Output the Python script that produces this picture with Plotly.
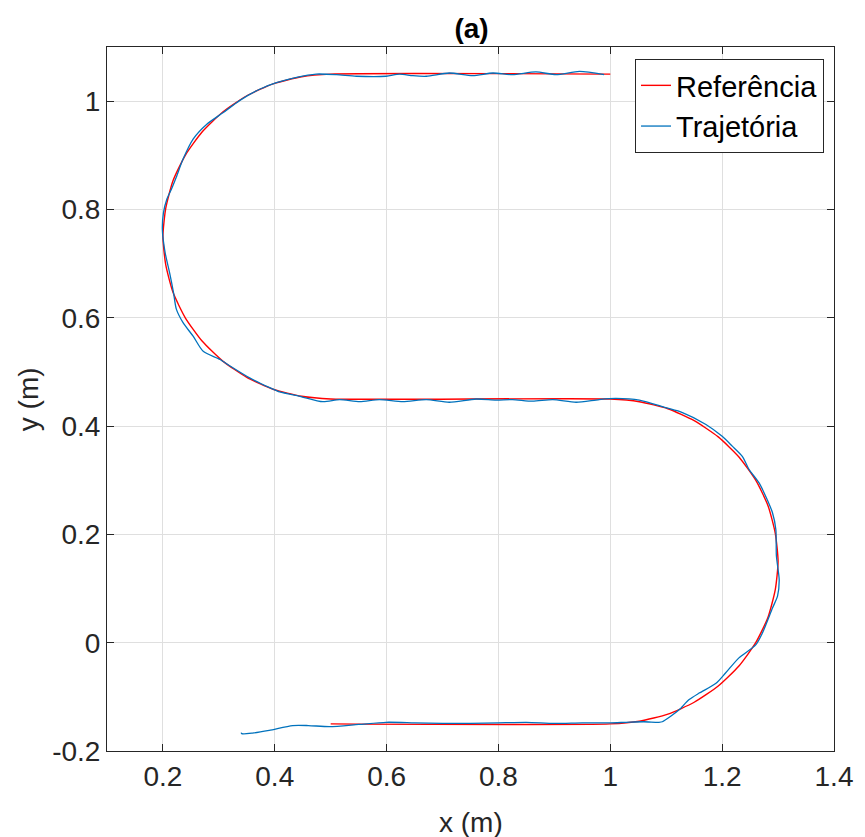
import plotly.graph_objects as go

# Reference path
ref_x = [0.500, 1.000,
         1.052, 1.103, 1.150, 1.193, 1.230, 1.260, 1.282, 1.295, 1.300,
         1.295, 1.282, 1.260, 1.230, 1.193, 1.150, 1.103, 1.052, 1.000,
         0.500,
         0.448, 0.397, 0.350, 0.307, 0.270, 0.240, 0.218, 0.205, 0.200,
         0.205, 0.218, 0.240, 0.270, 0.307, 0.350, 0.397, 0.448, 0.500,
         1.000]
ref_y = [-0.150, -0.150,
         -0.145, -0.132, -0.110, -0.080, -0.043, 0.000, 0.047, 0.098, 0.150,
         0.202, 0.253, 0.300, 0.343, 0.380, 0.410, 0.432, 0.445, 0.450,
         0.450,
         0.455, 0.468, 0.490, 0.520, 0.557, 0.600, 0.647, 0.698, 0.750,
         0.802, 0.853, 0.900, 0.943, 0.980, 1.010, 1.032, 1.045, 1.050,
         1.050]

traj_x = [0.340, 0.341, 0.360, 0.390, 0.432, 0.460, 0.498, 0.550, 0.599, 0.650,
          0.700, 0.750, 0.800, 0.850, 0.900, 0.950, 1.000, 1.028, 1.060, 1.087,
          1.093, 1.108, 1.123, 1.141, 1.159, 1.189, 1.206, 1.230, 1.260, 1.272,
          1.290, 1.299, 1.302, 1.297, 1.296, 1.290, 1.278, 1.266, 1.248, 1.236,
          1.218, 1.200, 1.171, 1.129, 1.099, 1.052, 1.010, 0.980, 0.939, 0.897,
          0.861, 0.825, 0.796, 0.760, 0.712, 0.671, 0.629, 0.587, 0.552, 0.516,
          0.486, 0.445, 0.409, 0.391, 0.355, 0.320, 0.302, 0.272, 0.254, 0.236,
          0.224, 0.219, 0.212, 0.204, 0.199, 0.201, 0.207, 0.215, 0.224, 0.236,
          0.254, 0.278, 0.308, 0.337, 0.373, 0.403, 0.439, 0.474, 0.510, 0.546,
          0.599, 0.623, 0.647, 0.671, 0.712, 0.754, 0.790, 0.825, 0.867, 0.903,
          0.945, 0.989]
traj_y = [-0.166, -0.168, -0.167, -0.162, -0.153, -0.153, -0.155, -0.151, -0.147, -0.148,
          -0.149, -0.149, -0.148, -0.147, -0.149, -0.148, -0.148, -0.147, -0.146, -0.147,
          -0.146, -0.136, -0.124, -0.105, -0.093, -0.075, -0.056, -0.028, -0.004, 0.018,
          0.064, 0.086, 0.116, 0.160, 0.209, 0.240, 0.270, 0.295, 0.320, 0.344,
          0.363, 0.381, 0.403, 0.425, 0.434, 0.448, 0.451, 0.449, 0.444, 0.449,
          0.446, 0.449, 0.448, 0.450, 0.444, 0.449, 0.445, 0.449, 0.445, 0.449,
          0.445, 0.455, 0.463, 0.471, 0.489, 0.511, 0.523, 0.538, 0.566, 0.591,
          0.616, 0.646, 0.683, 0.720, 0.763, 0.794, 0.819, 0.837, 0.860, 0.893,
          0.930, 0.957, 0.979, 1.001, 1.022, 1.034, 1.044, 1.050, 1.049, 1.046,
          1.046, 1.050, 1.047, 1.046, 1.052, 1.047, 1.052, 1.049, 1.054, 1.049,
          1.055, 1.049]

x_ticks = [0.2, 0.4, 0.6, 0.8, 1.0, 1.2, 1.4]
x_tick_labels = ["0.2", "0.4", "0.6", "0.8", "1", "1.2", "1.4"]
y_ticks = [-0.2, 0.0, 0.2, 0.4, 0.6, 0.8, 1.0]
y_tick_labels = ["-0.2", "0", "0.2", "0.4", "0.6", "0.8", "1"]

FONT = "Liberation Sans, Arial, sans-serif"
AX = "#262626"

# page has an 8px body margin; size the figure so the plot area lands where the reference has it
W, H = 857, 829
ML, MR, MT, MB = 99, 29, 39, 86
PW = W - ML - MR
PH = H - MT - MB

fig = go.Figure()
fig.add_trace(go.Scatter(x=ref_x, y=ref_y, mode="lines", name="Referência",
                         line=dict(color="#FF0000", width=1.4, shape="spline", smoothing=0.6)))
fig.add_trace(go.Scatter(x=traj_x, y=traj_y, mode="lines", name="Trajetória",
                         line=dict(color="#0072BD", width=1.3, shape="spline", smoothing=0.7)))

axis_common = dict(showline=True, linecolor=AX, linewidth=1, mirror="ticks",
                   ticks="inside", ticklen=7, tickcolor=AX,
                   showgrid=True, gridcolor="#DFDFDF", gridwidth=1,
                   zeroline=False, tickfont=dict(family=FONT, size=28, color=AX))

fig.update_xaxes(range=[0.1, 1.4], tickvals=x_ticks, ticktext=x_tick_labels, **axis_common)
fig.update_yaxes(range=[-0.2, 1.1], tickvals=y_ticks, ticktext=y_tick_labels, **axis_common)

fig.update_layout(
    width=W, height=H,
    margin=dict(l=ML, r=MR, t=MT, b=MB),
    plot_bgcolor="white", paper_bgcolor="white",
    font=dict(family=FONT, color=AX),
    title=dict(text="<b>(a)</b>", x=(ML + PW / 2) / W, xanchor="center",
               y=1 - 20 / H, yanchor="middle",
               font=dict(family=FONT, size=28, color="black")),
    legend=dict(x=(826 - 8 - ML) / PW, y=1 - (59 - 8 - MT) / PH, xanchor="right", yanchor="top",
                bgcolor="white", bordercolor=AX, borderwidth=1,
                font=dict(family=FONT, size=29, color="black"),
                tracegroupgap=0, itemwidth=30),
    showlegend=True,
    annotations=[
        dict(text="x (m)", xref="paper", yref="paper", x=0.5, y=-(822 - 751) / PH,
             xanchor="center", yanchor="middle", showarrow=False,
             font=dict(family=FONT, size=28, color=AX)),
        dict(text="y (m)", xref="paper", yref="paper", x=-(107 - 28) / PW, y=0.5,
             xanchor="center", yanchor="middle", showarrow=False, textangle=-90,
             font=dict(family=FONT, size=28, color=AX)),
    ],
)

fig.write_html("out.html")
